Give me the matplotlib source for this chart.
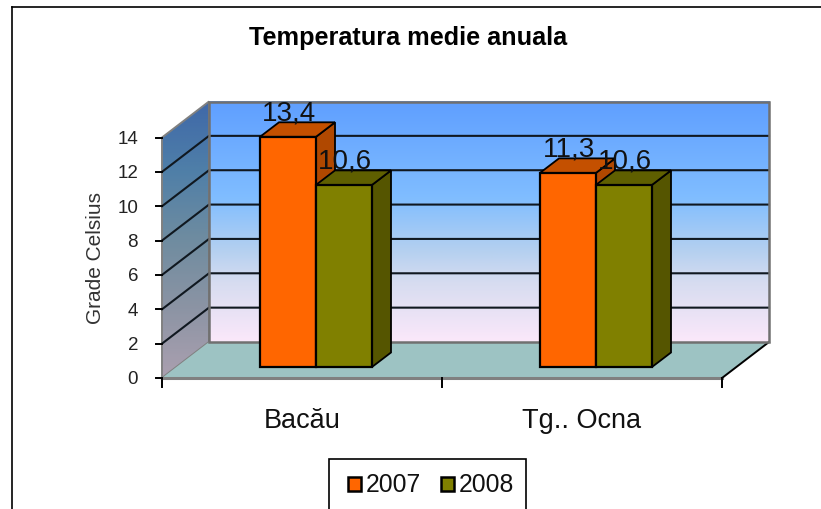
import numpy as np
import matplotlib
matplotlib.use('Agg')
import matplotlib.pyplot as plt
from matplotlib.colors import LinearSegmentedColormap
from matplotlib.patches import Polygon, Rectangle

title = 'Temperatura medie anuala'
categories = ['Bacău', 'Tg.. Ocna']
series_names = ['2007', '2008']
values_2007 = [13.4, 11.3]
values_2008 = [10.6, 10.6]
labels_2007 = ['13,4', '11,3']
labels_2008 = ['10,6', '10,6']
yticks = [0, 2, 4, 6, 8, 10, 12, 14]
ylabel = 'Grade Celsius'

W, H = 821, 510
plt.rcParams['font.family'] = ['Liberation Sans', 'DejaVu Sans']
fig = plt.figure(figsize=(W / 100, H / 100), dpi=100, facecolor='white')

# front plane of the 3d box, in pixels
left, right, bottom, top = 162, 722, 379, 138.5
ax = fig.add_axes([left / W, 1 - bottom / H, (right - left) / W, (bottom - top) / H])
ax.axis('off')

xmax = len(categories)
px = xmax / (right - left)
py = 14 / (bottom - top)
dx, dy = 47 * px, 36 * py  # box depth
bar_w = 56 * px
bar_dx, bar_dy = 19 * px, 14.5 * py  # bar depth
off_dx, off_dy = 14 * px, 11 * py  # front of bars relative to front plane


def poly(pts, fc, ec='black', lw=1.3, z=3):
    p = Polygon(pts, closed=True, fc=fc, ec=ec, lw=lw, zorder=z, clip_on=False)
    ax.add_patch(p)
    return p


gradient = np.linspace(0, 1, 256).reshape(-1, 1)

# back wall
wall_cmap = LinearSegmentedColormap.from_list('wall', [(0, '#5F9FFF'), (0.4, '#80BDFF'), (0.62, '#B4D0F0'),
                                                       (0.75, '#D6DCF0'), (1, '#FBE8FA')])
ax.imshow(gradient, cmap=wall_cmap, aspect='auto', origin='upper',
          extent=(dx, xmax + dx, dy, 14 + dy), zorder=1, clip_on=False)
ax.add_patch(Rectangle((dx, dy), xmax, 14, fc='none', ec='#707070', lw=1.8, zorder=2.1, clip_on=False))

# side wall
side_cmap = LinearSegmentedColormap.from_list('side', ['#3F68A8', '#4F7FA8', '#6F8CA0', '#8C94A4', '#ABA0B0'])
side = poly([(0, 0), (dx, dy), (dx, 14 + dy), (0, 14)], 'none', ec='#808080', lw=1.4, z=1.6)
im = ax.imshow(gradient, cmap=side_cmap, aspect='auto', origin='upper',
               extent=(0, dx, 0, 14 + dy), zorder=1.2)
im.set_clip_box(fig.bbox)
im.set_clip_path(side)

ax.set_xlim(0, xmax)
ax.set_ylim(0, 14)

# floor
poly([(0, 0), (dx, dy), (xmax + dx, dy), (xmax, 0)], '#9DC3C3', ec='none', lw=0, z=1.7)
ax.plot([0, xmax], [0, 0], color='#808080', lw=2.2, zorder=1.8, clip_on=False)
ax.plot([xmax, xmax + dx], [0, dy], color='black', lw=1.4, zorder=1.8, clip_on=False)

# gridlines over both walls
for t in yticks[1:-1]:
    ax.plot([0, dx, xmax + dx], [t, t + dy, t + dy], color='#101820', lw=1.5, zorder=2, clip_on=False)

# ticks and tick labels
for t in yticks:
    ax.plot([-6 * px, 0], [t, t], color='black', lw=1.4, clip_on=False, zorder=2)
    ax.text(-24 * px, t - 1 * py, str(t), ha='right', va='center', fontsize=13.5, color='#222222')
for x in range(xmax + 1):
    ax.plot([x, x], [-9 * py, 0], color='black', lw=1.4, clip_on=False, zorder=2)
ax.text(-67 * px, 7.04, ylabel, rotation=90, ha='center', va='center', fontsize=15, color='#333333')


def bar3d(x, v, front, top_c, side_c, z):
    xb, yb = x + off_dx, off_dy
    yt = yb + v
    poly([(xb + bar_w, yb), (xb + bar_w + bar_dx, yb + bar_dy),
          (xb + bar_w + bar_dx, yt + bar_dy), (xb + bar_w, yt)], side_c, z=z)
    poly([(xb, yt), (xb + bar_dx, yt + bar_dy), (xb + bar_w + bar_dx, yt + bar_dy), (xb + bar_w, yt)], top_c, z=z)
    ax.add_patch(Rectangle((xb, yb), bar_w, v, fc=front, ec='black', lw=1.6, zorder=z, clip_on=False))


colors = ['#FF6600', '#808000']
tops = ['#C45000', '#5F5F00']
sides = ['#B04800', '#555500']
for i, (a, b) in enumerate(zip(values_2007, values_2008)):
    center = i + 0.5
    bar3d(center - bar_w, a, colors[0], tops[0], sides[0], 3)
    bar3d(center, b, colors[1], tops[1], sides[1], 4)
    ax.text(center - bar_w / 2 + off_dx + 1 * px, a + off_dy + bar_dy + 3 * py, labels_2007[i],
            ha='center', va='baseline', fontsize=20, color='#111111', zorder=6)
    ax.text(center + bar_w / 2 + off_dx + 1 * px, b + off_dy + bar_dy + 3 * py, labels_2008[i],
            ha='center', va='baseline', fontsize=20, color='#111111', zorder=6)
    ax.text(center, -49 * py, categories[i], ha='center', va='baseline', fontsize=19.5, color='#111111')

# outer frame, no right or bottom edge in the original
fig.add_artist(plt.Line2D([12 / W, 12 / W], [0, 1 - 8 / H], color='black', lw=1.2))
fig.add_artist(plt.Line2D([12 / W, 1], [1 - 8 / H, 1 - 8 / H], color='black', lw=1.2))

fig.text(408 / W, 1 - 38 / H, title, ha='center', va='center', fontsize=18.2, fontweight='bold', color='black')

# legend box
fig.add_artist(Rectangle((329 / W, -0.01), 197 / W, 1 - 460 / H + 0.01, transform=fig.transFigure,
                         fc='white', ec='black', lw=1.2))
for name, c, sx, tx in zip(series_names, colors, [348, 441], [366, 459]):
    fig.add_artist(Rectangle((sx / W, 1 - 492 / H), 13 / W, 14 / H, transform=fig.transFigure,
                             fc=c, ec='black', lw=1.8))
    fig.text(tx / W, 1 - 485 / H, name, ha='left', va='center', fontsize=17.8, color='#111111')

fig.savefig('out.png', dpi=100)
